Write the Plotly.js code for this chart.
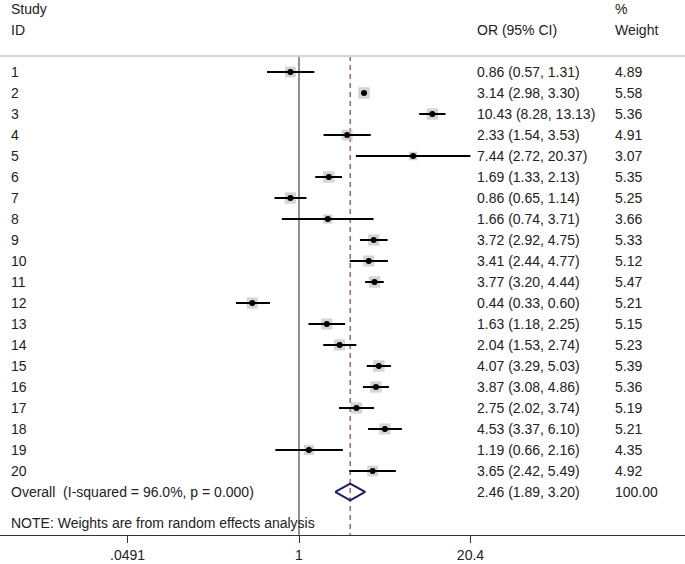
<!DOCTYPE html>
<html>
<head>
<meta charset="utf-8">
<script src="https://cdn.plot.ly/plotly-3.0.1.min.js"></script>
<style>html,body{margin:0;padding:0;background:#fff;}#chart{width:685px;height:564px;}</style>
</head>
<body>
<div id="chart"></div>
<script>
// ---- data ----
const studyIds = ['1','2','3','4','5','6','7','8','9','10','11','12','13','14','15','16','17','18','19','20'];
const orEst  = [0.86, 3.14, 10.43, 2.33, 7.44, 1.69, 0.86, 1.66, 3.72, 3.41, 3.77, 0.44, 1.63, 2.04, 4.07, 3.87, 2.75, 4.53, 1.19, 3.65];
const ciLow  = [0.57, 2.98, 8.28, 1.54, 2.72, 1.33, 0.65, 0.74, 2.92, 2.44, 3.20, 0.33, 1.18, 1.53, 3.29, 3.08, 2.02, 3.37, 0.66, 2.42];
const ciHigh = [1.31, 3.30, 13.13, 3.53, 20.37, 2.13, 1.14, 3.71, 4.75, 4.77, 4.44, 0.60, 2.25, 2.74, 5.03, 4.86, 3.74, 6.10, 2.16, 5.49];
const weights = [4.89, 5.58, 5.36, 4.91, 3.07, 5.35, 5.25, 3.66, 5.33, 5.12, 5.47, 5.21, 5.15, 5.23, 5.39, 5.36, 5.19, 5.21, 4.35, 4.92];
const overallLabel = 'Overall  (I-squared = 96.0%, p = 0.000)';
const overallEst = 2.46, overallLow = 1.89, overallHigh = 3.20, overallWeight = '100.00';
const noteText = 'NOTE: Weights are from random effects analysis';
const tickVals = [0.0491, 1, 20.4];
const tickText = ['.0491', '1', '20.4'];

// ---- layout helpers ----
const W = 685;
const FONT = 'Liberation Sans, Arial, sans-serif';
const fs = 14;
const rows = studyIds.map((_, i) => i + 1);
const overallRow = rows.length + 1;
const topY = 0.24, botY = 23.048;

const ciX = [], ciY = [];
rows.forEach((r, i) => { ciX.push(ciLow[i], ciHigh[i], null); ciY.push(r, r, null); });

const traces = [
  // null line
  {x: [1, 1], y: [topY, botY], mode: 'lines', line: {color: '#555', width: 1.3}, hoverinfo: 'skip'},
  // overall dashed line
  {x: [overallEst, overallEst], y: [topY, botY], mode: 'lines', line: {color: '#9c4a52', width: 1.3, dash: '5px,4px'}, hoverinfo: 'skip'},
  // weight squares
  {x: orEst, y: rows, mode: 'markers', marker: {symbol: 'square', color: '#c2c2c2', size: weights.map(w => 4.9 * Math.sqrt(w)), line: {width: 0}}, hoverinfo: 'skip'},
  // CI lines
  {x: ciX, y: ciY, mode: 'lines', line: {color: '#000', width: 2}, hoverinfo: 'skip'},
  // point estimate dots
  {x: orEst, y: rows, mode: 'markers', marker: {symbol: 'circle', color: '#000', size: 6}, hoverinfo: 'skip'},
  // overall diamond
  {x: [overallLow, overallEst, overallHigh, overallEst, overallLow],
   y: [overallRow, overallRow - 0.4, overallRow, overallRow + 0.4, overallRow],
   mode: 'lines', fill: 'toself', fillcolor: 'rgba(255,255,255,0)', line: {color: '#1c1c6e', width: 2}, hoverinfo: 'skip'}
];

const ann = [];
function txt(px, y, s) {
  ann.push({xref: 'paper', yref: 'y', x: px / W, y: y, text: s, showarrow: false, xanchor: 'left', yanchor: 'middle',
            font: {family: FONT, size: fs, color: '#222'}});
}
txt(9, -2.0, 'Study'); txt(9, -1.0, 'ID');
txt(475, -1.0, 'OR (95% CI)');
txt(613, -2.0, '%'); txt(613, -1.0, 'Weight');
const f2 = v => v.toFixed(2);
rows.forEach((r, i) => {
  txt(9, r, studyIds[i]);
  txt(475, r, f2(orEst[i]) + ' (' + f2(ciLow[i]) + ', ' + f2(ciHigh[i]) + ')');
  txt(613, r, f2(weights[i]));
});
txt(9, overallRow, overallLabel);
txt(475, overallRow, f2(overallEst) + ' (' + f2(overallLow) + ', ' + f2(overallHigh) + ')');
txt(613, overallRow, overallWeight);
txt(9, 22.48, noteText);

const layout = {
  width: 685, height: 564,
  margin: {l: 0, r: 0, t: 0, b: 29, pad: 0},
  paper_bgcolor: '#fff', plot_bgcolor: '#fff',
  showlegend: false,
  xaxis: {type: 'log', range: [-2.2833, 2.9477], tickvals: tickVals, ticktext: tickText,
          showgrid: false, zeroline: false, showline: true, linecolor: '#333', linewidth: 1,
          ticks: 'outside', ticklen: 7, tickcolor: '#333', tickwidth: 1,
          tickfont: {family: FONT, size: fs, color: '#222'}, fixedrange: true},
  yaxis: {range: [23.048, -2.4286], visible: false, showgrid: false, zeroline: false, fixedrange: true},
  shapes: [{type: 'line', xref: 'paper', yref: 'y', x0: 0, x1: 1, y0: 0.24, y1: 0.24, line: {color: '#d4d4d4', width: 2}}],
  annotations: ann
};
Plotly.newPlot('chart', traces, layout, {displayModeBar: false, staticPlot: true});
</script>
</body>
</html>
